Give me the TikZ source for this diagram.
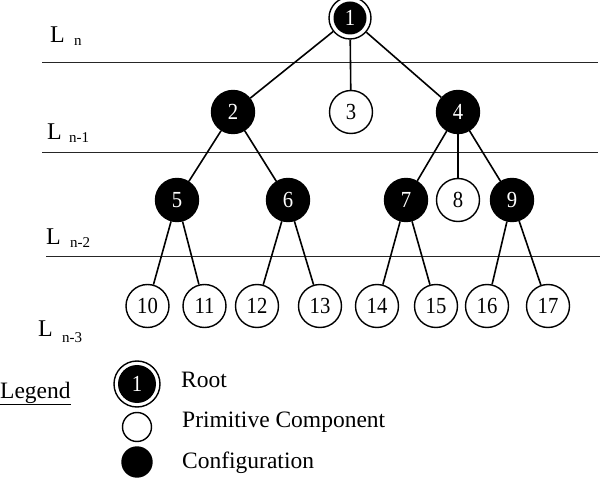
\documentclass[tikz,border=0pt]{standalone}
\usepackage{fontspec}
\setmainfont{Liberation Serif}
\newfontfamily\digitfont[FakeStretch=0.9]{Liberation Serif}
\begin{document}
\begin{tikzpicture}[x=1pt,y=-1pt,
  every node/.style={inner sep=0pt},
  comp/.style={circle,draw,line width=1.4pt,minimum size=43pt,fill=white,font=\digitfont\fontsize{23}{23}\selectfont},
  conf/.style={comp,fill=black,text=white},
  rootn/.style={comp,minimum size=42pt,text=white,
    path picture={\fill[black] (path picture bounding box.center) circle[radius=16.5pt];}},
  edge/.style={line width=1.6pt},
  levelline/.style={line width=1pt,draw=black!85},
  lbl/.style={anchor=base west,font=\fontsize{24}{24}\selectfont},
  sublbl/.style={anchor=base west,font=\fontsize{15}{15}\selectfont},
  leg/.style={anchor=base west,font=\fontsize{23.5}{23.5}\selectfont}]
\useasboundingbox (0,0) rectangle (603,489);

% level lines
\coordinate (a1) at (42,63);  \coordinate (a2) at (598,63);
\coordinate (b1) at (42,153); \coordinate (b2) at (598,153);
\coordinate (c1) at (46,257); \coordinate (c2) at (600,257);
\draw[levelline] (a1) -- (a2);
\draw[levelline] (b1) -- (b2);
\draw[levelline] (c1) -- (c2);

% level labels
\node[lbl] (L0) at (50,43) {L};    \node[sublbl] (S0) at (74,46) {n};
\node[lbl] (L1) at (47,140) {L};   \node[sublbl] (S1) at (69,143) {n-1};
\node[lbl] (L2) at (46,245) {L};   \node[sublbl] (S2) at (70,248) {n-2};
\node[lbl] (L3) at (38,337) {L};   \node[sublbl] (S3) at (62,342) {n-3};

% tree nodes
\node[rootn] (n1) at (350,18) {1};
\node[conf] (n2) at (233,112) {2};
\node[comp] (n3) at (351,112) {3};
\node[conf] (n4) at (458,112) {4};
\node[conf] (n5) at (177,200) {5};
\node[conf] (n6) at (288,200) {6};
\node[conf] (n7) at (406,200) {7};
\node[comp] (n8) at (458,200) {8};
\node[conf] (n9) at (512,200) {9};
\node[comp] (n10) at (147.5,306) {10};
\node[comp] (n11) at (204.5,306) {11};
\node[comp] (n12) at (257,306) {12};
\node[comp] (n13) at (320,306) {13};
\node[comp] (n14) at (377,306) {14};
\node[comp] (n15) at (436,306) {15};
\node[comp] (n16) at (487,306) {16};
\node[comp] (n17) at (548,306) {17};

% edges
\draw[edge] (n1) -- (n2);
\draw[edge] (n1) -- (n3);
\draw[edge] (n1) -- (n4);
\draw[edge] (n2) -- (n5);
\draw[edge] (n2) -- (n6);
\draw[edge] (n4) -- (n7);
\draw[edge] (n4) -- (n8);
\draw[edge] (n4) -- (n9);
\draw[edge] (n5) -- (n10);
\draw[edge] (n5) -- (n11);
\draw[edge] (n6) -- (n12);
\draw[edge] (n6) -- (n13);
\draw[edge] (n7) -- (n14);
\draw[edge] (n7) -- (n15);
\draw[edge] (n9) -- (n16);
\draw[edge] (n9) -- (n17);

% legend
\node[leg] (legend) at (0,398) {\underline{Legend}};
\node[comp,minimum size=46pt,text=white,
  path picture={\fill[black] (path picture bounding box.center) circle[radius=19pt];}] (lg1) at (137,384) {1};
\node[comp,minimum size=29pt] (lg2) at (137,427) {};
\node[comp,fill=black,minimum size=30pt] (lg3) at (137,462) {};
\node[leg] (t1) at (181,388) {Root};
\node[leg] (t2) at (182,427) {Primitive Component};
\node[leg] (t3) at (182,468) {Configuration};
\end{tikzpicture}
\end{document}
